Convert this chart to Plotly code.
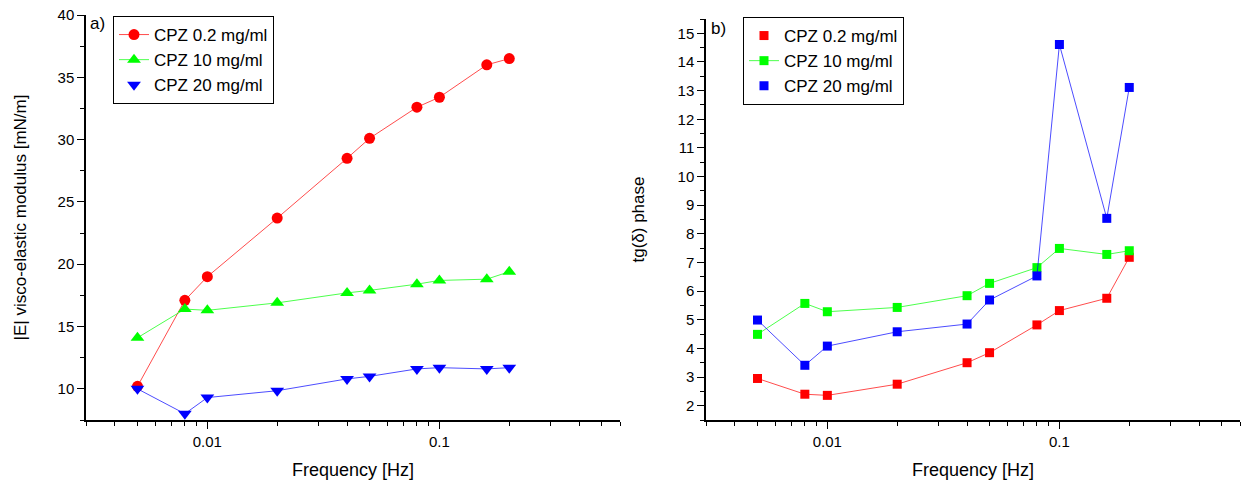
import numpy as np
import plotly.graph_objects as go

# ---------------- data ----------------
freq = [0.005, 0.008, 0.01, 0.02, 0.04, 0.05, 0.08, 0.1, 0.16, 0.2]

series_names = ["CPZ 0.2 mg/ml", "CPZ 10 mg/ml", "CPZ 20 mg/ml"]
series_colors = ["#FF0000", "#00FF00", "#0000FF"]

# panel a) |E| visco-elastic modulus [mN/m]
E_cpz02 = [10.2, 17.1, 19.0, 23.7, 28.5, 30.1, 32.6, 33.4, 36.0, 36.5]
E_cpz10 = [14.1, 16.4, 16.3, 16.9, 17.7, 17.9, 18.4, 18.7, 18.8, 19.4]
E_cpz20 = [10.0, 8.0, 9.3, 9.85, 10.8, 11.0, 11.6, 11.7, 11.6, 11.7]

# panel b) tg(delta) phase
T_cpz02 = [2.95, 2.40, 2.36, 2.75, 3.50, 3.85, 4.82, 5.32, 5.75, 7.18]
T_cpz10 = [4.49, 5.57, 5.28, 5.43, 5.84, 6.27, 6.82, 7.49, 7.28, 7.41]
T_cpz20 = [4.99, 3.41, 4.08, 4.58, 4.85, 5.69, 6.53, 14.61, 8.54, 13.11]

x_tickvals = [0.01, 0.1]
x_ticktext = ["0.01", "0.1"]
x_minor = [0.003, 0.004, 0.005, 0.006, 0.007, 0.008, 0.009,
           0.02, 0.03, 0.04, 0.05, 0.06, 0.07, 0.08, 0.09,
           0.2, 0.3, 0.4, 0.5, 0.6]
x_range = [0.003, 0.6]

FONT = "Arial, Liberation Sans, sans-serif"
W, H = 1245, 482

def px_x(p):
    return p / W

def px_y(p):
    return 1 - p / H

def rgba(hexc, a):
    h = hexc.lstrip("#")
    r, g, b = int(h[0:2], 16), int(h[2:4], 16), int(h[4:6], 16)
    return f"rgba({r},{g},{b},{a})"

fig = go.Figure()

# ---------- panel a ----------
a_vals = [E_cpz02, E_cpz10, E_cpz20]
a_symbols = ["circle", "triangle-up", "triangle-down"]
a_sizes = [11, 12, 12]
a_legend_line = [True, True, False]
for name, col, vals, sym, sz, ll in zip(series_names, series_colors, a_vals,
                                         a_symbols, a_sizes, a_legend_line):
    if ll:
        fig.add_trace(go.Scatter(
            x=freq, y=vals, mode="lines+markers", name=name,
            line=dict(color=rgba(col, 0.7), width=1),
            marker=dict(color=col, symbol=sym, size=sz, line=dict(width=0)),
            xaxis="x", yaxis="y", legend="legend"))
    else:
        fig.add_trace(go.Scatter(
            x=freq, y=vals, mode="lines", showlegend=False,
            line=dict(color=rgba(col, 0.7), width=1),
            xaxis="x", yaxis="y", hoverinfo="skip"))
        fig.add_trace(go.Scatter(
            x=freq, y=vals, mode="markers", name=name,
            marker=dict(color=col, symbol=sym, size=sz, line=dict(width=0)),
            xaxis="x", yaxis="y", legend="legend"))

# ---------- panel b ----------
b_vals = [T_cpz02, T_cpz10, T_cpz20]
b_legend_line = [False, True, False]
for name, col, vals, ll in zip(series_names, series_colors, b_vals, b_legend_line):
    if ll:
        fig.add_trace(go.Scatter(
            x=freq, y=vals, mode="lines+markers", name=name,
            line=dict(color=rgba(col, 0.7), width=1),
            marker=dict(color=col, symbol="square", size=9, line=dict(width=0)),
            xaxis="x2", yaxis="y2", legend="legend2"))
    else:
        fig.add_trace(go.Scatter(
            x=freq, y=vals, mode="lines", showlegend=False,
            line=dict(color=rgba(col, 0.7), width=1),
            xaxis="x2", yaxis="y2", hoverinfo="skip"))
        fig.add_trace(go.Scatter(
            x=freq, y=vals, mode="markers", name=name,
            marker=dict(color=col, symbol="square", size=9, line=dict(width=0)),
            xaxis="x2", yaxis="y2", legend="legend2"))

xaxis_common = dict(
    type="log",
    range=[np.log10(x_range[0]), np.log10(x_range[1])],
    tickmode="array", tickvals=x_tickvals, ticktext=x_ticktext,
    ticks="outside", ticklen=7, tickwidth=1.3, tickcolor="black",
    minor=dict(tickmode="array", tickvals=x_minor, ticks="outside",
               ticklen=4, tickwidth=1.3, tickcolor="black", showgrid=False),
    showline=True, linecolor="black", linewidth=1.5,
    showgrid=False, zeroline=False,
    tickfont=dict(family=FONT, size=15, color="black"),
    title=dict(text="Frequency [Hz]", font=dict(family=FONT, size=18, color="black"),
               standoff=15),
)

yaxis_common = dict(
    ticks="outside", ticklen=7, tickwidth=1.3, tickcolor="black",
    showline=True, linecolor="black", linewidth=1.5,
    showgrid=False, zeroline=False,
    tickfont=dict(family=FONT, size=15, color="black"),
)

fig.update_layout(
    width=W, height=H,
    margin=dict(l=0, r=0, t=0, b=0, autoexpand=False),
    paper_bgcolor="white", plot_bgcolor="white",
    font=dict(family=FONT, color="black"),
    xaxis=dict(domain=[px_x(86), px_x(620)], anchor="y", **xaxis_common),
    xaxis2=dict(domain=[px_x(706), px_x(1240)], anchor="y2", **xaxis_common),
    yaxis=dict(domain=[px_y(420), px_y(15)], anchor="x",
               range=[7.5, 40], tickmode="linear", tick0=0, dtick=5,
               minor=dict(dtick=2.5, ticks="outside", ticklen=4, tickwidth=1.3,
                          tickcolor="black", showgrid=False),
               title=dict(text="|E| visco-elastic modulus [mN/m]",
                          font=dict(family=FONT, size=17, color="black"),
                          standoff=27),
               **yaxis_common),
    yaxis2=dict(domain=[px_y(420), px_y(19)], anchor="x2",
                range=[1.5, 15.5], tickmode="linear", tick0=0, dtick=1,
                minor=dict(dtick=0.5, ticks="outside", ticklen=4, tickwidth=1.3,
                           tickcolor="black", showgrid=False),
                title=dict(text="tg(δ) phase",
                           font=dict(family=FONT, size=17, color="black"),
                           standoff=29),
                **yaxis_common),
    legend=dict(x=px_x(113), y=px_y(16), xanchor="left", yanchor="top",
                bordercolor="black", borderwidth=1, bgcolor="white",
                font=dict(family=FONT, size=17, color="black"),
                tracegroupgap=0, itemsizing="trace"),
    legend2=dict(x=px_x(743), y=px_y(17), xanchor="left", yanchor="top",
                 bordercolor="black", borderwidth=1, bgcolor="white",
                 font=dict(family=FONT, size=17, color="black"),
                 tracegroupgap=0, itemsizing="trace"),
    annotations=[
        dict(text="a)", x=px_x(88), y=px_y(23), xref="paper", yref="paper",
             xanchor="left", yanchor="middle", showarrow=False,
             font=dict(family=FONT, size=17, color="black")),
        dict(text="b)", x=px_x(709), y=px_y(28), xref="paper", yref="paper",
             xanchor="left", yanchor="middle", showarrow=False,
             font=dict(family=FONT, size=17, color="black")),
    ],
)

fig.write_html(
    "out.html",
    config={"displayModeBar": False},
    post_script="document.body.style.margin='0';document.body.style.overflow='hidden';",
)
